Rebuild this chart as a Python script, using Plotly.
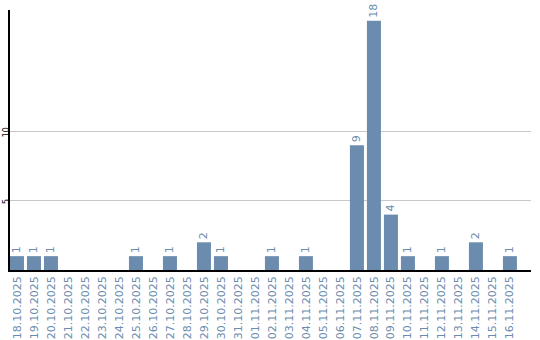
import plotly.graph_objects as go

dates = ["18.10.2025", "19.10.2025", "20.10.2025", "21.10.2025", "22.10.2025",
         "23.10.2025", "24.10.2025", "25.10.2025", "26.10.2025", "27.10.2025",
         "28.10.2025", "29.10.2025", "30.10.2025", "31.10.2025", "01.11.2025",
         "02.11.2025", "03.11.2025", "04.11.2025", "05.11.2025", "06.11.2025",
         "07.11.2025", "08.11.2025", "09.11.2025", "10.11.2025", "11.11.2025",
         "12.11.2025", "13.11.2025", "14.11.2025", "15.11.2025", "16.11.2025"]
counts = [1, 1, 1, 0, 0, 0, 0, 1, 0, 1,
          0, 2, 1, 0, 0, 1, 0, 1, 0, 0,
          9, 18, 4, 1, 0, 1, 0, 2, 0, 1]
ytick_vals = [5, 10]

color = "#6b8cae"
labels = [str(v) if v > 0 else "" for v in counts]

fig = go.Figure(go.Bar(
    x=dates, y=counts, marker=dict(color=color, line=dict(width=0)),
    text=labels, textposition="outside", textangle=-90,
    textfont=dict(color=color, size=11, family="DejaVu Sans"),
    cliponaxis=False, hoverinfo="skip",
))

fig.update_layout(
    width=540, height=340,
    margin=dict(l=10, r=9, t=10, b=70),
    plot_bgcolor="white", paper_bgcolor="white",
    bargap=0.176, showlegend=False,
    font=dict(family="DejaVu Sans"),
)
fig.update_xaxes(
    type="category", range=[-0.41, 30.24], automargin=False,
    tickangle=-90, tickfont=dict(color=color, size=11, family="DejaVu Sans"),
    showline=True, linecolor="black", linewidth=1.5,
    showgrid=False, ticks="", ticklen=0,
)
fig.update_yaxes(
    range=[0, 18.77], tickvals=ytick_vals, ticktext=[str(v) for v in ytick_vals],
    automargin=False, ticklabelstandoff=-4, ticklabelshift=2,
    tickangle=-90, tickfont=dict(color="black", size=8, family="DejaVu Sans"),
    showline=True, linecolor="black", linewidth=1.5,
    showgrid=True, gridcolor="#c8c8c8", gridwidth=1,
    zeroline=False, ticks="", ticklen=0,
)

fig.write_html("out.html")
